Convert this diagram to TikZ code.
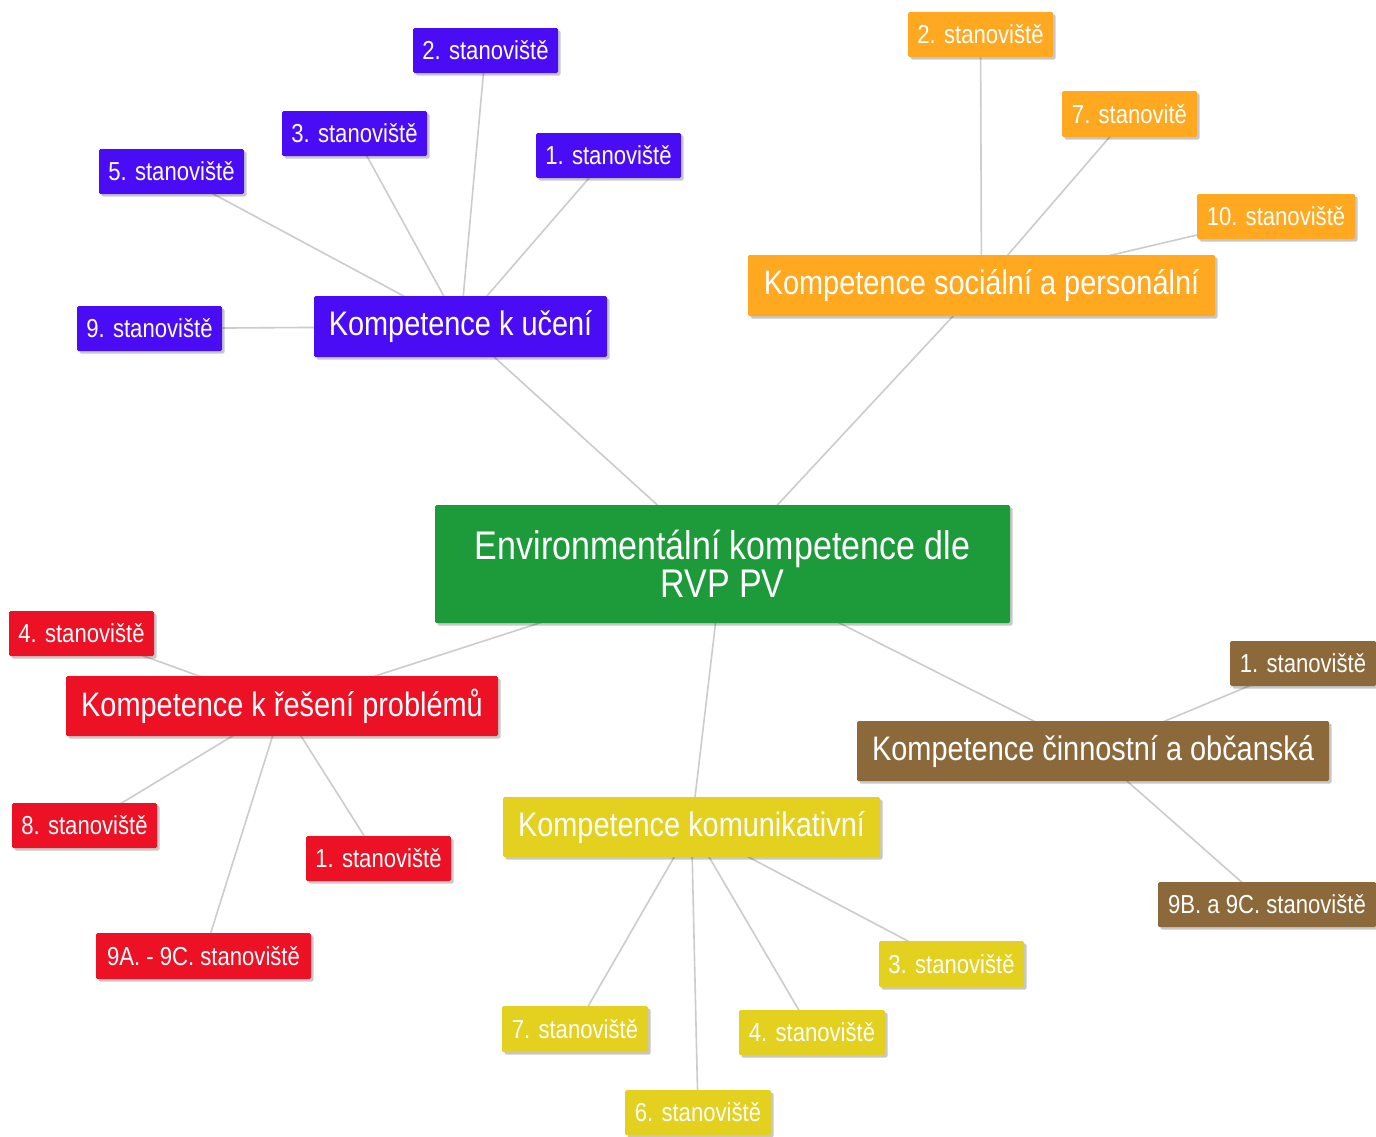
\documentclass[tikz,border=0pt]{standalone}
\usepackage{fontspec}
\setmainfont{Liberation Sans}[FakeStretch=0.85]
\usetikzlibrary{shadows,backgrounds}
\definecolor{cpur}{RGB}{74,12,245}
\definecolor{cora}{RGB}{255,168,32}
\definecolor{cgre}{RGB}{29,155,58}
\definecolor{cred}{RGB}{236,17,36}
\definecolor{cbro}{RGB}{140,105,58}
\definecolor{cyel}{RGB}{228,208,30}
\definecolor{cline}{RGB}{204,204,204}
\tikzset{
  box/.style={rectangle, rounded corners=1.5pt, inner sep=0pt, text=white,
    drop shadow={shadow xshift=2.5pt, shadow yshift=-2.5pt, opacity=0.22, fill=black}},
  stbox/.style={box, font=\fontsize{26}{28}\selectfont},
  kombox/.style={box, font=\fontsize{34}{36}\selectfont},
  link/.style={draw=cline, line width=1.6pt}
}
\begin{document}
\begin{tikzpicture}[x=1pt,y=-1pt]
\useasboundingbox (0,0) rectangle (1376,1136);
% centre
\node[box, fill=cgre, minimum width=575pt, minimum height=118pt, align=center,
  font=\fontsize{40}{38}\selectfont] (g) at (722.5,564) {Environmentální kompetence dle\\RVP PV};
% purple
\node[kombox, fill=cpur, minimum width=293pt, minimum height=61pt] (puK) at (460.5,326.5) {Kompetence k učení};
\node[stbox, fill=cpur, minimum width=145pt, minimum height=45pt] (pu2) at (485.5,50.5) {2. stanoviště};
\node[stbox, fill=cpur, minimum width=145pt, minimum height=45pt] (pu3) at (354.5,133.5) {3. stanoviště};
\node[stbox, fill=cpur, minimum width=145pt, minimum height=45pt] (pu5) at (171.5,171.5) {5. stanoviště};
\node[stbox, fill=cpur, minimum width=145pt, minimum height=45pt] (pu1) at (608.5,155.5) {1. stanoviště};
\node[stbox, fill=cpur, minimum width=145pt, minimum height=45pt] (pu9) at (149.5,328.5) {9. stanoviště};
% orange
\node[kombox, fill=cora, minimum width=467pt, minimum height=61pt] (orK) at (981.5,285.5) {Kompetence sociální a personální};
\node[stbox, fill=cora, minimum width=145pt, minimum height=45pt] (or2) at (980.5,34.5) {2. stanoviště};
\node[stbox, fill=cora, minimum width=135pt, minimum height=46pt] (or7) at (1129.5,114) {7. stanovitě};
\node[stbox, fill=cora, minimum width=158pt, minimum height=45pt] (or10) at (1276,216.5) {10. stanoviště};
% red
\node[kombox, fill=cred, minimum width=432pt, minimum height=60pt] (reK) at (282,706) {Kompetence k řešení problémů};
\node[stbox, fill=cred, minimum width=145pt, minimum height=45pt] (re4) at (81.5,633.5) {4. stanoviště};
\node[stbox, fill=cred, minimum width=145pt, minimum height=45pt] (re8) at (84.5,825.5) {8. stanoviště};
\node[stbox, fill=cred, minimum width=145pt, minimum height=45pt] (re1) at (378.5,858.5) {1. stanoviště};
\node[stbox, fill=cred, minimum width=215pt, minimum height=46pt] (re9) at (203.5,956) {9A. - 9C. stanoviště};
% brown
\node[kombox, fill=cbro, minimum width=472pt, minimum height=60pt] (brK) at (1093,751) {Kompetence činnostní a občanská};
\node[stbox, fill=cbro, minimum width=146pt, minimum height=45pt] (br1) at (1303,663.5) {1. stanoviště};
\node[stbox, fill=cbro, minimum width=218pt, minimum height=45pt] (br9) at (1267,904.5) {9B. a 9C. stanoviště};
% yellow
\node[kombox, fill=cyel, minimum width=377pt, minimum height=60pt] (yeK) at (691.5,827) {Kompetence komunikativní};
\node[stbox, fill=cyel, minimum width=145pt, minimum height=46pt] (ye3) at (951.5,964) {3. stanoviště};
\node[stbox, fill=cyel, minimum width=146pt, minimum height=46pt] (ye7) at (575,1029) {7. stanoviště};
\node[stbox, fill=cyel, minimum width=146pt, minimum height=45pt] (ye4) at (812,1032.5) {4. stanoviště};
\node[stbox, fill=cyel, minimum width=146pt, minimum height=45pt] (ye6) at (698,1112.5) {6. stanoviště};
% links
\begin{pgfonlayer}{background}
\fill[white] (0,0) rectangle (1376,1136);
\foreach \a/\b in {g/puK,g/orK,g/reK,g/brK,g/yeK,
  puK/pu2,puK/pu3,puK/pu5,puK/pu1,puK/pu9,
  orK/or2,orK/or7,orK/or10,
  reK/re4,reK/re8,reK/re1,reK/re9,
  brK/br1,brK/br9,
  yeK/ye3,yeK/ye7,yeK/ye4,yeK/ye6}
  \draw[link] (\a.center) -- (\b.center);
\end{pgfonlayer}
\end{tikzpicture}
\end{document}
